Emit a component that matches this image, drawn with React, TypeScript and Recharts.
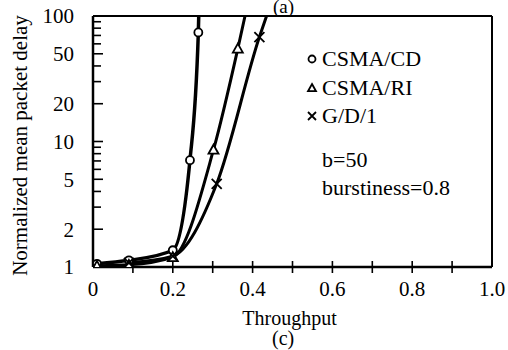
import React from 'react';
import { LineChart, Line, XAxis, YAxis, ReferenceLine, Legend, Label } from 'recharts';

// Throughput (x) and normalized mean packet delay (y) per series
const csmaCdX = [0.01, 0.09, 0.2, 0.243, 0.264, 0.265];
const csmaCdY = [1.06, 1.13, 1.36, 7.1, 74, 100];
const csmaRiX = [0.01, 0.09, 0.2, 0.302, 0.363, 0.381];
const csmaRiY = [1.02, 1.04, 1.2, 8.6, 55, 100];
const gd1X = [0.09, 0.2, 0.31, 0.417, 0.435];
const gd1Y = [1.08, 1.22, 4.6, 68, 100];

const xTicks = [0, 0.1, 0.2, 0.3, 0.4, 0.5, 0.6, 0.7, 0.8, 0.9, 1.0];
const xLabels = [0, 0.2, 0.4, 0.6, 0.8, 1.0];
const yTicks = [1, 2, 3, 4, 5, 6, 7, 8, 9, 10, 20, 30, 40, 50, 60, 70, 80, 90, 100];
const yLabels = [1, 2, 5, 10, 20, 50, 100];

const seriesNames = ['CSMA/CD', 'CSMA/RI', 'G/D/1'];
const annotations = ['b=50', 'burstiness=0.8'];
const titleX = 'Throughput';
const titleY = 'Normalized mean packet delay';
const panelTop = '(a)';
const panelBottom = '(c)';

const zip = (xs: number[], ys: number[]) => xs.map((x, i) => ({ x, y: ys[i] }));
const cdData = zip(csmaCdX, csmaCdY);
const riData = zip(csmaRiX, csmaRiY);
const gdData = zip(gd1X, gd1Y);

const FONT = "'Liberation Serif', 'DejaVu Serif', serif";

const CircleMark = ({ cx, cy, r = 4 }: any) => (
  <circle cx={cx} cy={cy} r={r} fill="#fff" stroke="#000" strokeWidth={1.8} />
);
const TriMark = ({ cx, cy, s = 5 }: any) => (
  <path
    d={`M${cx},${cy - s} L${cx + s},${cy + s * 0.8} L${cx - s},${cy + s * 0.8} Z`}
    fill="#fff"
    stroke="#000"
    strokeWidth={1.8}
  />
);
const XMark = ({ cx, cy, s = 5 }: any) => (
  <path
    d={`M${cx - s},${cy - s} L${cx + s},${cy + s} M${cx + s},${cy - s} L${cx - s},${cy + s}`}
    stroke="#000"
    strokeWidth={1.8}
    fill="none"
  />
);

const markers: Record<string, any> = {
  'CSMA/CD': CircleMark,
  'CSMA/RI': TriMark,
  'G/D/1': XMark,
};

const makeDot = (Mark: any) => (p: any) => {
  const { cx, cy, payload, key, index } = p;
  if (payload.y >= 100) return <g key={key ?? index} />;
  return (
    <g key={key ?? index}>
      <Mark cx={cx} cy={cy} />
    </g>
  );
};

const XTick = (props: any) => {
  const { x, y, payload } = props;
  const v = payload.value;
  const showLine = v > 0 && v < 1;
  const showLabel = xLabels.some((l) => Math.abs(l - v) < 1e-9);
  return (
    <g>
      {showLine && <line x1={x} x2={x} y1={y - 6} y2={y + 6} stroke="#000" strokeWidth={1.6} />}
      {showLabel && (
        <text x={x} y={y + 29} textAnchor="middle" style={{ fontFamily: FONT }} fontSize={21} fill="#000">
          {v === 0 ? '0' : v.toFixed(1)}
        </text>
      )}
    </g>
  );
};

const YTick = (props: any) => {
  const { x, y, payload } = props;
  const v = payload.value;
  const major = yLabels.includes(v);
  const len = major ? 10 : 8;
  return (
    <g>
      {v < 100 && v > 1 && <line x1={x} x2={x + len} y1={y} y2={y} stroke="#000" strokeWidth={1.6} />}
      {major && (
        <text x={x - 19} y={y} dy="0.35em" textAnchor="end" style={{ fontFamily: FONT }} fontSize={21} fill="#000">
          {v}
        </text>
      )}
    </g>
  );
};

const LegendContent = (props: any) => {
  const { payload } = props;
  return (
    <div style={{ fontFamily: FONT, fontSize: 22, lineHeight: '28.5px', color: '#000' }}>
      {(payload || []).map((entry: any) => {
        const Mark = markers[entry.value];
        return (
          <div key={entry.value} style={{ display: 'flex', alignItems: 'center', whiteSpace: 'nowrap' }}>
            <svg width={16} height={16} style={{ marginRight: 2 }}>
              <Mark cx={8} cy={8} r={3.5} s={4} />
            </svg>
            <span>{entry.value}</span>
          </div>
        );
      })}
    </div>
  );
};

export default function App() {
  return (
    <div
      style={{
        position: 'absolute',
        left: 0,
        top: 0,
        width: 508,
        height: 350,
        background: '#fff',
        overflow: 'hidden',
        fontFamily: FONT,
      }}
    >
      <LineChart
        width={508}
        height={350}
        margin={{ top: 16, right: 16, bottom: 43, left: 33 }}
        style={{ fontFamily: FONT }}
      >
        <XAxis
          dataKey="x"
          type="number"
          domain={[0, 1]}
          ticks={xTicks}
          interval={0}
          tick={<XTick />}
          tickLine={false}
          tickSize={0}
          tickMargin={0}
          height={40}
          axisLine={{ stroke: '#000', strokeWidth: 2.5 }}
        >
          <Label
            content={(p: any) => {
              const vb = p.viewBox;
              return (
                <text
                  x={vb.x + vb.width / 2 - 3}
                  y={vb.y + 58}
                  textAnchor="middle"
                  style={{ fontFamily: FONT }}
                  fontSize={20}
                  fill="#000"
                >
                  {titleX}
                </text>
              );
            }}
          />
        </XAxis>
        <YAxis
          type="number"
          scale="log"
          domain={[1, 100]}
          allowDataOverflow
          ticks={yTicks}
          interval={0}
          tick={<YTick />}
          tickLine={false}
          tickSize={0}
          tickMargin={0}
          width={60}
          axisLine={{ stroke: '#000', strokeWidth: 2.5 }}
        >
          <Label
            content={(p: any) => {
              const vb = p.viewBox;
              const cx = vb.x - 6;
              const cy = vb.y + vb.height / 2 + 4;
              return (
                <text
                  x={cx}
                  y={cy}
                  transform={`rotate(-90 ${cx} ${cy})`}
                  textAnchor="middle"
                  style={{ fontFamily: FONT }}
                  fontSize={21}
                  fill="#000"
                >
                  {titleY}
                </text>
              );
            }}
          />
        </YAxis>
        <ReferenceLine y={100} stroke="#000" strokeWidth={2} ifOverflow="visible" />
        <ReferenceLine x={1} stroke="#000" strokeWidth={2} ifOverflow="visible" />
        <Line
          data={cdData}
          dataKey="y"
          name={seriesNames[0]}
          type="monotone"
          stroke="#000"
          strokeWidth={3.5}
          dot={makeDot(CircleMark)}
          isAnimationActive={false}
        />
        <Line
          data={riData}
          dataKey="y"
          name={seriesNames[1]}
          type="monotone"
          stroke="#000"
          strokeWidth={3}
          dot={makeDot(TriMark)}
          isAnimationActive={false}
        />
        <Line
          data={gdData}
          dataKey="y"
          name={seriesNames[2]}
          type="monotone"
          stroke="#000"
          strokeWidth={3}
          dot={makeDot(XMark)}
          isAnimationActive={false}
        />
        <Legend
          layout="vertical"
          align="center"
          verticalAlign="middle"
          content={<LegendContent />}
          wrapperStyle={{ left: 304, top: 45, width: 'auto', height: 'auto' }}
        />
      </LineChart>
      <div style={{ position: 'absolute', left: 322, top: 146, fontSize: 22, lineHeight: '28px', color: '#000' }}>
        {annotations.map((a) => (
          <div key={a} style={{ whiteSpace: 'nowrap' }}>{a}</div>
        ))}
      </div>
      <div style={{ position: 'absolute', left: 273, top: -3, fontSize: 19, lineHeight: '20px', color: '#000' }}>{panelTop}</div>
      <div style={{ position: 'absolute', left: 272, top: 327, fontSize: 20, color: '#000' }}>{panelBottom}</div>
    </div>
  );
}
